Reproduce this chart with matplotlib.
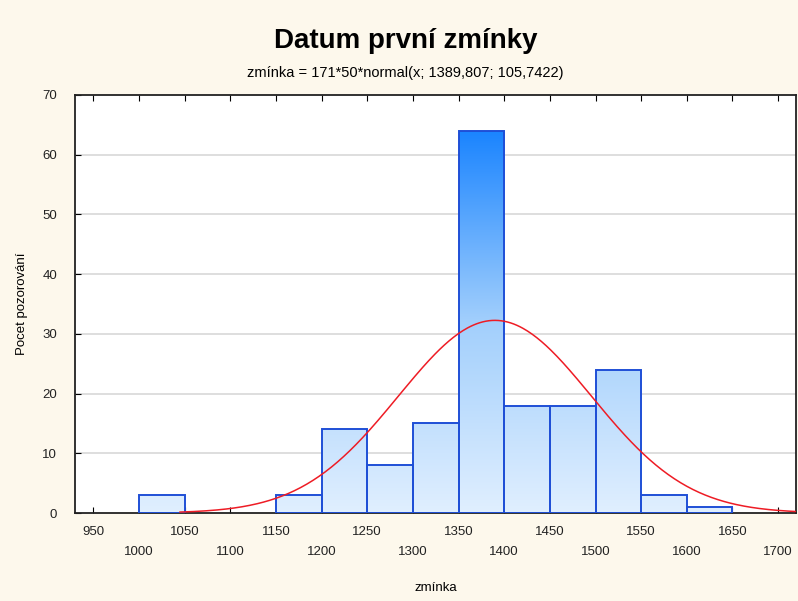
import numpy as np
import matplotlib
matplotlib.use("Agg")
import matplotlib.pyplot as plt
from matplotlib.colors import LinearSegmentedColormap

plt.rcParams["font.family"] = ["Liberation Sans", "DejaVu Sans"]

# histogram data
bin_left = [1000, 1150, 1200, 1250, 1300, 1350, 1400, 1450, 1500, 1550, 1600]
counts = [3, 3, 14, 8, 15, 64, 18, 18, 24, 3, 1]
bin_width = 50

# fitted normal
n_obs = 171
mu = 1389.807
sigma = 105.7422

xticks = list(range(950, 1701, 50))
yticks = list(range(0, 71, 10))

fig = plt.figure(figsize=(7.98, 6.01), dpi=100, facecolor="#fdf8ec")
ax = fig.add_axes([0.094, 0.1464, 0.904, 0.6956])
ax.set_facecolor("white")

for y in yticks[1:-1]:
    ax.axhline(y, color="#d8d8d8", lw=1.2, zorder=0)

cmap = LinearSegmentedColormap.from_list("g", ["#e0efff", "#a2cffc", "#1a84ff"])
grad = np.linspace(0, 1, 256).reshape(-1, 1)
bars = ax.bar(bin_left, counts, width=bin_width, align="edge",
              facecolor="none", edgecolor="#1f4fd6", linewidth=1.4, zorder=3)
for b in bars:
    im = ax.imshow(grad, cmap=cmap, origin="lower", aspect="auto",
                   extent=[930, 1720, 0, 64], zorder=2)
    im.set_clip_path(b)
ax.set_xlim(930, 1720)
ax.set_ylim(0, 70)

xs = np.linspace(1045, 1720, 400)
ys = n_obs * bin_width * np.exp(-0.5 * ((xs - mu) / sigma) ** 2) / (sigma * np.sqrt(2 * np.pi))
ax.plot(xs, ys, color="#ee1c25", lw=1.1, zorder=4)

ax.set_xticks(xticks)
ax.set_xticklabels([str(t) if i % 2 == 0 else "\n" + str(t) for i, t in enumerate(xticks)],
                   fontsize=9.5, color="#222222", linespacing=1.95)
ax.set_yticks(yticks)
ax.set_yticklabels([str(t) for t in yticks], fontsize=9.5, color="#222222")
ax.tick_params(axis="x", direction="in", length=4, top=True, pad=9)
ax.tick_params(axis="y", direction="in", length=4, pad=13)
for s in ax.spines.values():
    s.set_linewidth(1.3)
    s.set_color("#222222")

ax.set_xlabel("zmínka", fontsize=9.5, labelpad=17)
ax.set_ylabel("Pocet pozorování", fontsize=9.5, labelpad=10)

fig.text(0.508, 0.931, "Datum první zmínky", ha="center", va="center",
         fontsize=20, fontweight="bold")
fig.text(0.508, 0.878, "zmínka = 171*50*normal(x; 1389,807; 105,7422)",
         ha="center", va="center", fontsize=10.5)

plt.savefig("out.png", dpi=100, facecolor=fig.get_facecolor())
